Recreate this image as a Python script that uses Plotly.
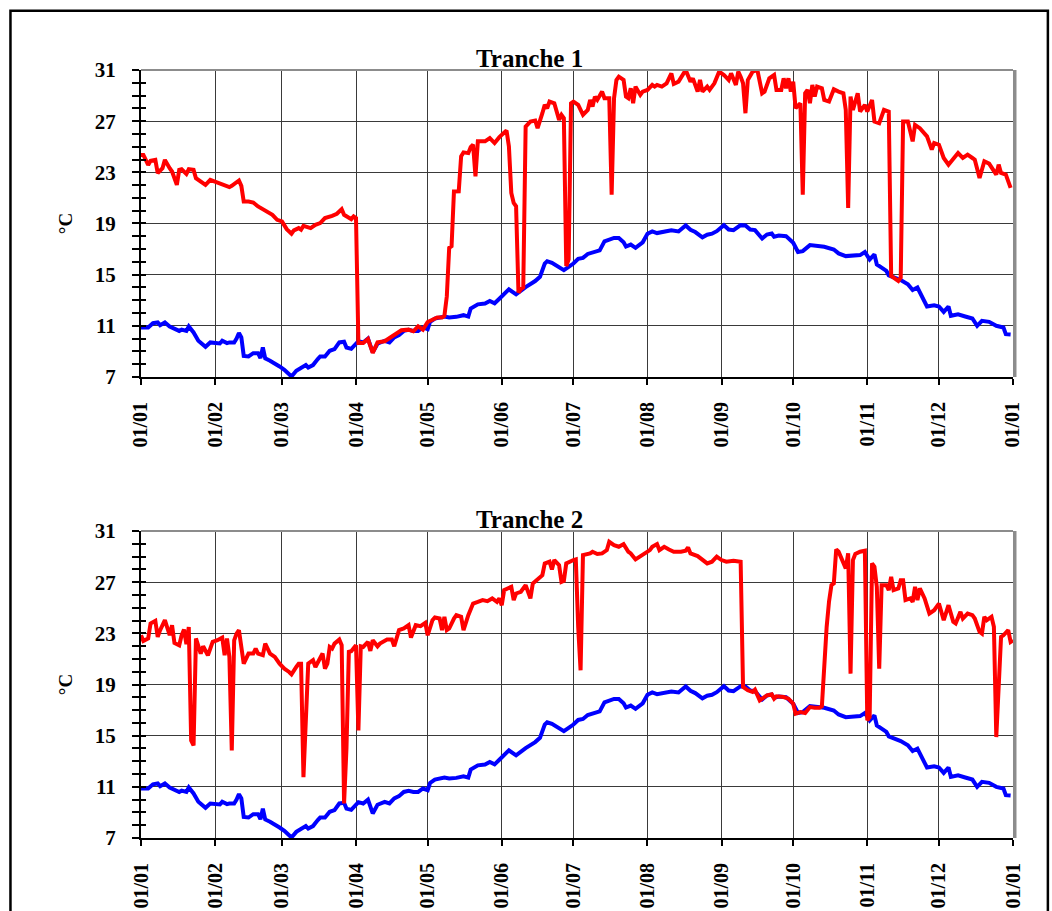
import plotly.graph_objects as go

# Axis labelling
month_days = [0, 31, 59, 90, 120, 151, 181, 212, 243, 273, 304, 334, 365]
month_labels = ["01/01", "01/02", "01/03", "01/04", "01/05", "01/06", "01/07",
                "01/08", "01/09", "01/10", "01/11", "01/12", "01/01"]
y_ticks = [7, 11, 15, 19, 23, 27, 31]
titles = ["Tranche 1", "Tranche 2"]

# Blue series (day of year, °C) - shared by both panels
blue_days = [0, 3, 5, 7, 8, 10, 12, 14, 16, 17, 19, 20, 22, 24, 26, 27, 29, 31, 33, 34,
             36, 37, 39, 40, 41, 42, 43, 45, 47, 49, 50, 51, 52, 54, 56, 58, 60, 62, 63, 65,
             67, 69, 70, 72, 74, 75, 77, 79, 81, 83, 85, 86, 88, 89, 91, 93, 95, 97, 99, 102,
             104, 106, 108, 110, 112, 114, 116, 118, 120, 121, 123, 127, 129, 132, 135, 137, 138, 141, 144, 146,
             148, 150, 154, 157, 159, 161, 165, 167, 169, 170, 172, 174, 177, 179, 181, 183, 185, 187, 189, 192,
             194, 196, 198, 200, 202, 203, 205, 207, 210, 212, 214, 216, 219, 222, 225, 226, 228, 230, 232, 235,
             237, 239, 241, 244, 246, 248, 251, 253, 255, 257, 260, 262, 264, 265, 267, 270, 273, 275, 277, 280,
             283, 286, 290, 292, 295, 298, 301, 303, 304, 305, 307, 308, 310, 312, 313, 316, 318, 321, 323, 325,
             327, 329, 332, 334, 336, 338, 339, 342, 345, 348, 350, 352, 355, 358, 361, 362, 364]
blue_vals = [10.87, 10.87, 11.2, 11.26, 11.05, 11.26, 10.95, 10.74, 10.6, 10.7, 10.6, 10.95, 10.48, 9.83, 9.57, 9.36, 9.7, 9.62, 9.62, 9.83,
             9.65, 9.7, 9.7, 10.0, 10.43, 10.1, 8.65, 8.6, 8.86, 8.86, 8.47, 9.3, 8.45, 8.27, 8.0, 7.82, 7.56, 7.22, 7.04, 7.48,
             7.74, 7.93, 7.74, 7.93, 8.4, 8.6, 8.6, 9.05, 9.18, 9.7, 9.75, 9.3, 9.2, 9.4, 9.8, 9.7, 10.0, 8.92, 9.6, 9.83,
             9.7, 10.1, 10.27, 10.6, 10.69, 10.6, 10.6, 10.87, 10.74, 11.3, 11.57, 11.72, 11.65, 11.7, 11.83, 11.72, 12.35, 12.68, 12.74, 12.94,
             12.76, 13.12, 13.85, 13.46, 13.77, 14.03, 14.5, 14.83, 15.87, 16.05, 15.92, 15.66, 15.35, 15.61, 15.87, 16.23, 16.31, 16.62, 16.7, 16.9,
             17.6, 17.74, 17.87, 17.87, 17.53, 17.2, 17.35, 17.1, 17.53, 18.2, 18.38, 18.25, 18.38, 18.46, 18.38, 18.56, 18.85, 18.51, 18.33, 17.92,
             18.12, 18.2, 18.4, 18.87, 18.53, 18.48, 18.87, 18.84, 18.53, 18.48, 17.83, 18.14, 18.22, 17.96, 18.06, 18.01, 17.49, 16.77, 16.84, 17.31,
             17.23, 17.18, 16.97, 16.66, 16.45, 16.5, 16.53, 16.77, 16.45, 16.19, 16.58, 15.8, 15.55, 15.29, 14.95, 14.77, 14.58, 14.25, 13.8, 13.99,
             13.2, 12.51, 12.61, 12.51, 12.09, 12.51, 11.78, 11.9, 11.73, 11.57, 11.0, 11.39, 11.31, 11.0, 10.87, 10.35, 10.32]

# Red series, Tranche 1
red1_days = [0, 1, 3, 4, 6, 7, 9, 10, 12, 13, 15, 16, 17, 19, 20, 22, 23, 25, 27, 29,
             31, 33, 35, 37, 38, 40, 41, 42, 43, 45, 47, 49, 51, 53, 55, 57, 59, 61, 63, 64,
             66, 67, 68, 71, 73, 75, 77, 80, 82, 84, 85, 88, 89, 90, 91, 93, 95, 97, 99, 102,
             105, 107, 109, 112, 114, 116, 118, 120, 121, 124, 126, 127, 128, 129, 130, 131, 133, 134, 135, 137,
             138, 139, 140, 141, 144, 146, 148, 150, 153, 154, 155, 156, 157, 158, 159, 160, 161, 163, 165, 166,
             168, 169, 170, 171, 173, 175, 176, 177, 178, 179, 180, 181, 183, 185, 187, 188, 189, 190, 191, 193,
             194, 196, 197, 198, 199, 200, 202, 203, 204, 205, 206, 207, 209, 210, 212, 214, 215, 216, 218, 220,
             222, 223, 225, 227, 228, 230, 231, 233, 234, 235, 237, 238, 240, 242, 244, 246, 247, 249, 250, 251,
             252, 253, 254, 256, 258, 260, 261, 263, 265, 266, 268, 269, 270, 271, 272, 273, 274, 276, 277, 278,
             279, 280, 281, 282, 283, 285, 286, 288, 290, 292, 294, 295, 296, 297, 298, 300, 301, 303, 304, 306,
             307, 309, 311, 313, 314, 317, 318, 319, 321, 323, 324, 326, 329, 331, 332, 334, 336, 338, 340, 342,
             344, 346, 348, 349, 351, 353, 355, 358, 359, 360, 362, 364]
red1_vals = [24.36, 24.36, 23.58, 23.9, 23.97, 22.94, 23.32, 23.97, 23.32, 23.06, 22.02, 23.19, 23.24, 22.88, 23.24, 23.19, 22.54, 22.28, 22.02, 22.41,
             22.28, 22.15, 22.02, 21.84, 21.94, 22.28, 22.36, 21.94, 20.72, 20.72, 20.64, 20.33, 20.12, 19.94, 19.68, 19.29, 19.16, 18.56, 18.2, 18.46,
             18.64, 18.51, 18.82, 18.64, 18.9, 19.03, 19.42, 19.6, 19.76, 20.12, 19.68, 19.34, 19.55, 19.42, 9.66, 9.66, 9.97, 8.88, 9.71, 9.79,
             10.18, 10.39, 10.65, 10.7, 10.57, 10.96, 10.7, 11.3, 11.39, 11.65, 11.65, 11.78, 13.3, 17.1, 17.23, 21.5, 21.52, 24.25, 24.56, 24.5,
             24.97, 25.16, 22.69, 25.42, 25.42, 25.68, 25.29, 25.75, 26.27, 25.03, 21.39, 20.61, 20.35, 13.6, 13.86, 13.99, 26.58, 26.97, 27.05, 26.45,
             27.62, 28.27, 28.01, 28.53, 28.4, 27.1, 27.49, 27.23, 15.68, 16.2, 28.4, 28.53, 28.27, 27.49, 27.88, 28.66, 28.14, 28.92, 28.66, 29.31,
             28.79, 28.79, 21.26, 28.79, 30.22, 30.48, 30.22, 28.92, 28.79, 29.57, 28.4, 29.7, 29.05, 29.31, 29.44, 29.83, 29.7, 29.83, 29.7, 29.96,
             30.74, 29.91, 30.09, 30.74, 31.0, 30.09, 30.35, 29.31, 30.22, 29.31, 29.7, 29.44, 29.96, 30.87, 30.61, 30.22, 30.74, 29.83, 30.87, 30.48,
             29.96, 27.62, 30.22, 30.87, 31.0, 29.18, 29.31, 30.35, 30.61, 29.44, 29.44, 30.35, 29.57, 30.35, 29.31, 30.09, 28.01, 28.4, 21.26, 29.18,
             29.44, 28.4, 29.83, 28.92, 29.7, 29.57, 28.66, 28.53, 29.49, 29.31, 29.18, 27.88, 20.22, 28.92, 27.88, 29.18, 27.75, 28.27, 27.75, 28.66,
             26.97, 26.84, 27.88, 27.75, 14.9, 14.51, 14.77, 26.97, 26.97, 25.42, 26.71, 26.45, 25.81, 24.77, 25.29, 25.16, 24.12, 23.6, 24.12, 24.51,
             24.12, 24.38, 24.12, 23.99, 22.56, 23.86, 23.68, 22.82, 23.6, 22.95, 22.82, 21.78]

# Red series, Tranche 2
red2_days = [0, 1, 3, 4, 6, 7, 8, 10, 12, 13, 14, 16, 17, 18, 19, 20, 21, 22, 23, 25,
             26, 28, 29, 30, 32, 34, 35, 36, 37, 38, 39, 40, 41, 43, 45, 47, 48, 49, 51, 52,
             54, 56, 58, 60, 62, 63, 65, 66, 67, 68, 70, 72, 73, 75, 76, 77, 78, 79, 80, 81,
             83, 84, 85, 86, 87, 88, 90, 91, 92, 93, 95, 96, 97, 99, 100, 103, 105, 106, 108, 110,
             112, 113, 115, 117, 119, 120, 122, 123, 125, 126, 127, 128, 129, 131, 132, 134, 135, 137, 139, 141,
             143, 145, 147, 149, 150, 151, 152, 155, 156, 157, 159, 161, 163, 164, 167, 168, 169, 171, 172, 173,
             175, 176, 177, 178, 181, 182, 183, 184, 185, 188, 189, 191, 193, 195, 196, 198, 200, 202, 204, 205,
             207, 209, 211, 213, 214, 216, 217, 219, 221, 223, 226, 228, 229, 230, 233, 235, 237, 239, 241, 243,
             245, 248, 250, 251, 252, 254, 256, 257, 259, 262, 264, 265, 266, 269, 271, 273, 274, 276, 278, 280,
             282, 284, 285, 286, 287, 288, 289, 290, 291, 292, 294, 295, 296, 297, 298, 299, 301, 303, 304, 305,
             306, 307, 308, 309, 310, 312, 313, 314, 315, 317, 318, 319, 320, 322, 323, 324, 325, 326, 328, 330,
             332, 334, 336, 337, 338, 340, 341, 343, 344, 346, 348, 349, 351, 352, 353, 354, 356, 357, 358, 360,
             361, 363, 364, 365]
red2_vals = [22.85, 22.41, 22.6, 23.77, 23.98, 22.72, 23.25, 24.03, 22.85, 23.64, 22.25, 22.07, 22.85, 23.3, 22.15, 23.5, 14.63, 14.24, 22.6, 21.42,
             21.99, 21.29, 21.81, 22.33, 22.46, 22.67, 21.29, 22.6, 21.16, 13.85, 22.46, 22.98, 23.25, 20.63, 21.42, 21.42, 21.81, 21.42, 21.29, 22.2,
             21.42, 21.16, 20.63, 20.24, 19.98, 19.8, 20.37, 20.63, 20.63, 11.76, 20.63, 20.9, 20.37, 21.03, 21.42, 20.24, 20.63, 21.94, 21.81, 22.2,
             22.51, 22.07, 9.7, 14.0, 21.55, 21.6, 22.07, 15.41, 21.99, 21.94, 22.33, 21.63, 22.46, 21.99, 22.2, 22.51, 22.51, 21.99, 23.25, 23.38,
             23.64, 22.67, 23.64, 23.56, 23.82, 22.85, 24.03, 24.24, 24.16, 23.25, 24.29, 23.25, 23.38, 24.16, 24.42, 24.29, 23.25, 24.42, 25.33, 25.46,
             25.6, 25.52, 25.73, 25.46, 25.73, 25.2, 26.38, 26.64, 25.6, 26.12, 26.25, 26.77, 25.73, 26.9, 27.37, 27.55, 28.46, 28.6, 28.0, 28.73,
             28.33, 27.03, 27.11, 28.47, 28.73, 28.78, 23.51, 20.11, 29.12, 29.25, 29.38, 29.2, 29.25, 29.51, 30.16, 29.9, 29.77, 29.98, 29.38, 29.25,
             28.78, 29.04, 29.25, 29.51, 29.77, 29.98, 29.51, 29.77, 29.56, 29.38, 29.38, 29.46, 29.72, 29.25, 29.04, 28.73, 28.47, 28.6, 28.99, 28.73,
             28.6, 28.68, 28.6, 28.6, 18.81, 18.55, 18.42, 18.6, 17.76, 18.15, 18.23, 17.89, 18.08, 18.02, 17.89, 17.5, 16.72, 16.85, 16.77, 17.24,
             17.19, 17.19, 17.3, 20.5, 23.5, 25.5, 26.77, 26.9, 29.56, 29.38, 28.47, 28.08, 29.25, 19.85, 28.73, 29.2, 29.38, 29.46, 16.2, 16.46,
             28.47, 28.21, 26.64, 20.24, 26.77, 26.77, 26.38, 27.42, 26.38, 26.51, 27.16, 27.16, 25.6, 25.73, 25.46, 26.64, 25.6, 26.51, 25.73, 24.55,
             24.81, 25.33, 24.03, 24.68, 25.2, 23.9, 23.77, 24.68, 24.16, 24.55, 24.42, 24.16, 23.12, 22.98, 24.29, 24.03, 24.29, 23.51, 14.89, 22.72,
             22.85, 23.25, 22.33, 22.46]

SERIF = "Liberation Serif"
GRID = "#3a3a3a"
FRAME = "#8c8c8c"

fig = go.Figure()

panels = [("x", "y", red1_days, red1_vals), ("x2", "y2", red2_days, red2_vals)]
for xa, ya, rd, rv in panels:
    fig.add_trace(go.Scatter(x=blue_days, y=blue_vals, mode="lines", xaxis=xa, yaxis=ya,
                             line=dict(color="#0000ff", width=4), showlegend=False,
                             hoverinfo="skip"))
    fig.add_trace(go.Scatter(x=rd, y=rv, mode="lines", xaxis=xa, yaxis=ya,
                             line=dict(color="#ff0000", width=4), showlegend=False,
                             hoverinfo="skip"))

# empty traces that carry the overlaid axes drawing the inner half of the y ticks
fig.add_trace(go.Scatter(x=[None], y=[None], xaxis="x", yaxis="y3", showlegend=False, hoverinfo="skip"))
fig.add_trace(go.Scatter(x=[None], y=[None], xaxis="x2", yaxis="y4", showlegend=False, hoverinfo="skip"))

xcommon = dict(range=[0, 365], tickmode="array", tickvals=month_days, ticktext=month_labels,
               tickangle=-90, ticks="outside", ticklen=6, tickwidth=1.5, tickcolor="black",
               showline=True, linecolor="black", linewidth=2, showgrid=True,
               gridcolor=GRID, gridwidth=1, zeroline=False, ticklabelstandoff=9,
               automargin=False,
               tickfont=dict(family=SERIF, size=20, color="black", weight="bold"))
ycommon = dict(range=[7, 31], tickmode="linear", tick0=7, dtick=4,
               ticks="outside", ticklen=7, tickwidth=1.5, tickcolor="black",
               minor=dict(tickmode="linear", tick0=7, dtick=1, ticks="outside", ticklen=7,
                          tickwidth=1.5, tickcolor="black", showgrid=False),
               showline=True, linecolor="black", linewidth=2, showgrid=True,
               gridcolor=GRID, gridwidth=1, zeroline=False, ticklabelstandoff=12,
               automargin=False,
               tickfont=dict(family=SERIF, size=21, color="black", weight="bold"),
               title=dict(text="°C", font=dict(family=SERIF, size=19, color="black", weight="bold"),
                          standoff=17))
yinner = dict(range=[7, 31], tickmode="linear", tick0=7, dtick=4, ticks="inside", ticklen=5,
              tickwidth=1.5, tickcolor="black",
              minor=dict(tickmode="linear", tick0=7, dtick=1, ticks="inside", ticklen=5,
                         tickwidth=1.5, tickcolor="black", showgrid=False),
              showticklabels=False, showgrid=False, showline=False, zeroline=False,
              automargin=False)

top_dom = [0.6003, 1.0]
bot_dom = [0.0, 0.3997]

fig.update_layout(
    width=1052, height=911,
    margin=dict(l=141, r=39, t=70, b=73, autoexpand=False),
    paper_bgcolor="white", plot_bgcolor="white",
    xaxis=dict(domain=[0, 1], anchor="y", **xcommon),
    xaxis2=dict(domain=[0, 1], anchor="y2", **xcommon),
    yaxis=dict(domain=top_dom, anchor="x", **ycommon),
    yaxis2=dict(domain=bot_dom, anchor="x2", **ycommon),
    yaxis3=dict(domain=top_dom, anchor="x", overlaying="y", **yinner),
    yaxis4=dict(domain=bot_dom, anchor="x2", overlaying="y2", **yinner),
)

shapes = []
annotations = []
for dom, title in zip([top_dom, bot_dom], titles):
    # plot-area frame: grey top and right edges
    shapes.append(dict(type="line", xref="paper", yref="paper", x0=0, x1=1, y0=dom[1], y1=dom[1],
                       line=dict(color=FRAME, width=2)))
    shapes.append(dict(type="line", xref="paper", yref="paper", x0=1.002, x1=1.002, y0=dom[0], y1=dom[1],
                       line=dict(color=FRAME, width=3.5)))
    annotations.append(dict(text="<b>" + title + "</b>", xref="paper", yref="paper",
                            x=0.445, y=dom[1], xanchor="center", yanchor="bottom", yshift=-4,
                            showarrow=False, font=dict(family=SERIF, size=25, color="black")))

# outer frame of the figure
shapes.append(dict(type="rect", xref="paper", yref="paper",
                   x0=-0.1497, x1=1.0400, y0=-0.12, y1=1.0772,
                   line=dict(color="black", width=2.5), fillcolor="rgba(0,0,0,0)", layer="above"))

fig.update_layout(shapes=shapes, annotations=annotations)

fig.write_html("out.html")
